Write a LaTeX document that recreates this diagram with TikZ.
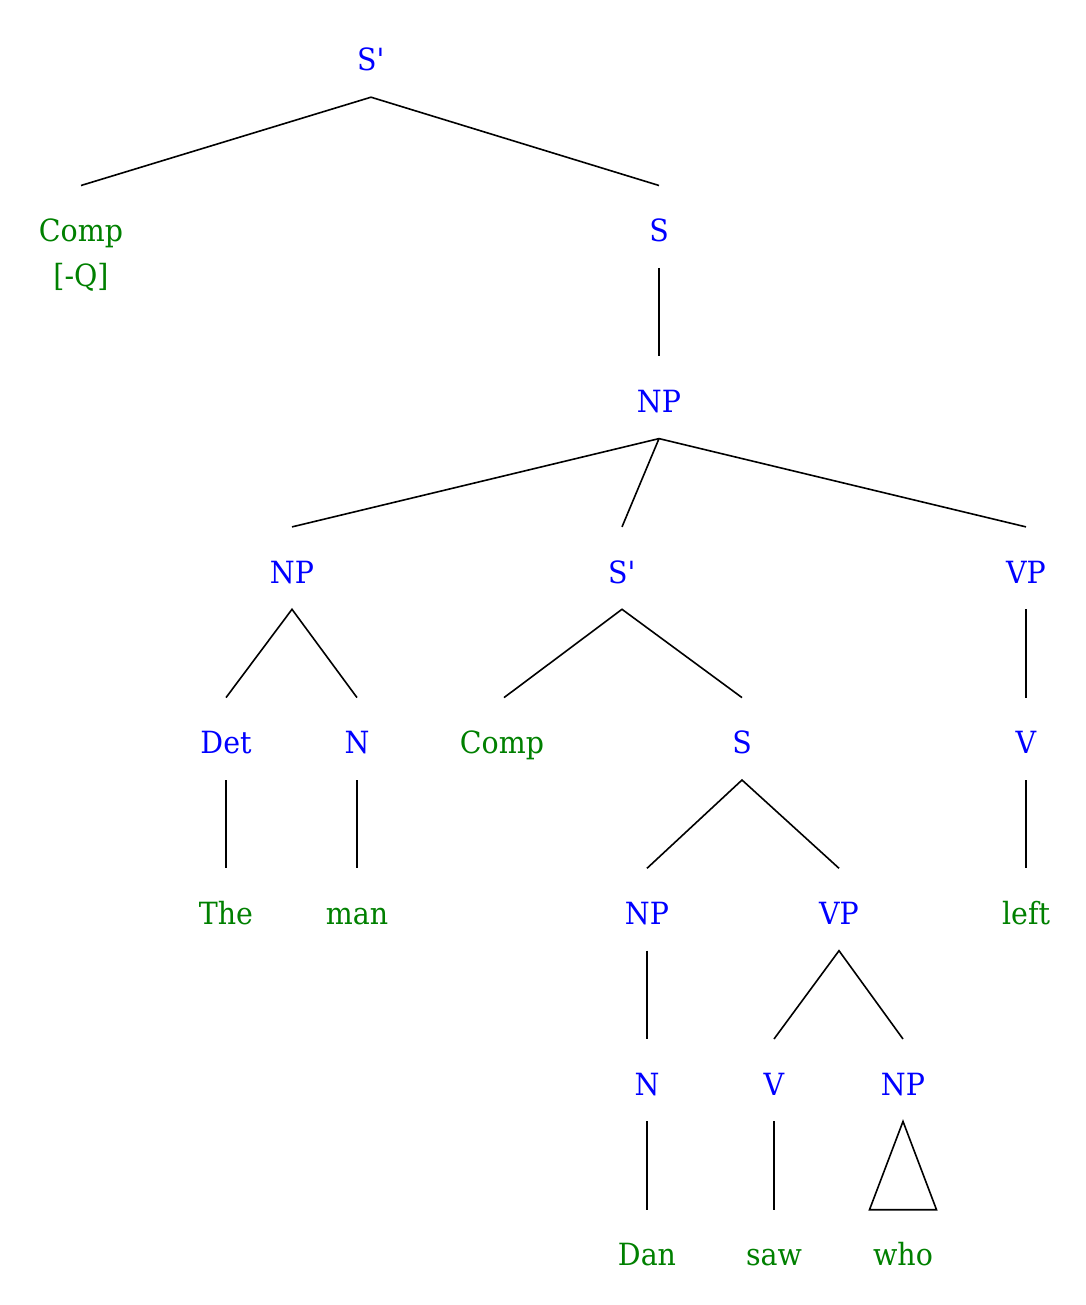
\documentclass[tikz,border=0pt]{standalone}
\usepackage{fontspec}
\setmainfont{DejaVu Serif}[FakeStretch=0.93]
\usetikzlibrary{positioning}
\definecolor{catblue}{RGB}{0,0,255}
\definecolor{wordgreen}{RGB}{0,128,0}
\tikzset{
  cat/.style={text=catblue, inner xsep=2pt, inner ysep=0pt, minimum height=82pt,
    text height=30pt, text depth=0pt},
  leaf/.style={cat, text=wordgreen},
  feat/.style={text=wordgreen, inner sep=0pt, anchor=base},
  branch/.style={line width=1.6pt},
}

\begin{document}
\begin{tikzpicture}[x=1pt, y=-1pt, node distance=88.3pt,
  every node/.style={font=\fontsize{30.6}{36}\selectfont}]
\useasboundingbox (0,0) rectangle (1085,1305);
  \node[cat] (sbar1) at (371,56) {S\textquotesingle};
  \node[leaf, below=of sbar1, xshift=-290pt] (compQ) {Comp};
  \node[feat] (feat) at ([yshift=-44.5pt]compQ.base) {[-Q]};
  \node[cat, below=of sbar1, xshift=288pt] (s1) {S};
  \node[cat, below=of s1] (np1) {NP};
  \node[cat, below=of np1, xshift=-367pt] (np2) {NP};
  \node[cat, below=of np1, xshift=-37pt] (sbar2) {S\textquotesingle};
  \node[cat, below=of np1, xshift=367pt] (vp1) {VP};
  \node[cat, below=of np2, xshift=-66pt] (det) {Det};
  \node[cat, below=of np2, xshift=65pt] (n1) {N};
  \node[leaf, below=of sbar2, xshift=-120pt] (comp2) {Comp};
  \node[cat, below=of sbar2, xshift=120pt] (s2) {S};
  \node[cat, below=of vp1] (v1) {V};
  \node[leaf, below=of det] (the) {The};
  \node[leaf, below=of n1] (man) {man};
  \node[cat, below=of s2, xshift=-95pt] (np3) {NP};
  \node[cat, below=of s2, xshift=97pt] (vp2) {VP};
  \node[leaf, below=of v1] (left) {left};
  \node[cat, below=of np3] (n2) {N};
  \node[cat, below=of vp2, xshift=-65pt] (v2) {V};
  \node[cat, below=of vp2, xshift=64pt] (np4) {NP};
  \node[leaf, below=of n2] (dan) {Dan};
  \node[leaf, below=of v2] (saw) {saw};
  \node[leaf, below=of np4] (who) {who};

  % branches
  \draw[branch] (compQ.north) -- (sbar1.south) -- (s1.north);
  \draw[branch] (s1.south) -- (np1.north);
  \draw[branch] (np2.north) -- (np1.south) -- (vp1.north);
  \draw[branch] (np1.south) -- (sbar2.north);
  \draw[branch] (det.north) -- (np2.south) -- (n1.north);
  \draw[branch] ([xshift=2pt]comp2.north) -- (sbar2.south) -- (s2.north);
  \draw[branch] (vp1.south) -- (v1.north);
  \draw[branch] (det.south) -- (the.north);
  \draw[branch] (n1.south) -- (man.north);
  \draw[branch] (np3.north) -- (s2.south) -- (vp2.north);
  \draw[branch] (v1.south) -- (left.north);
  \draw[branch] (np3.south) -- (n2.north);
  \draw[branch] (v2.north) -- (vp2.south) -- (np4.north);
  \draw[branch] (n2.south) -- (dan.north);
  \draw[branch] (v2.south) -- (saw.north);
  \draw[branch, line join=miter] ([xshift=-33.5pt]who.north) -- (np4.south)
    -- ([xshift=33.5pt]who.north) -- cycle;
\end{tikzpicture}
\end{document}
